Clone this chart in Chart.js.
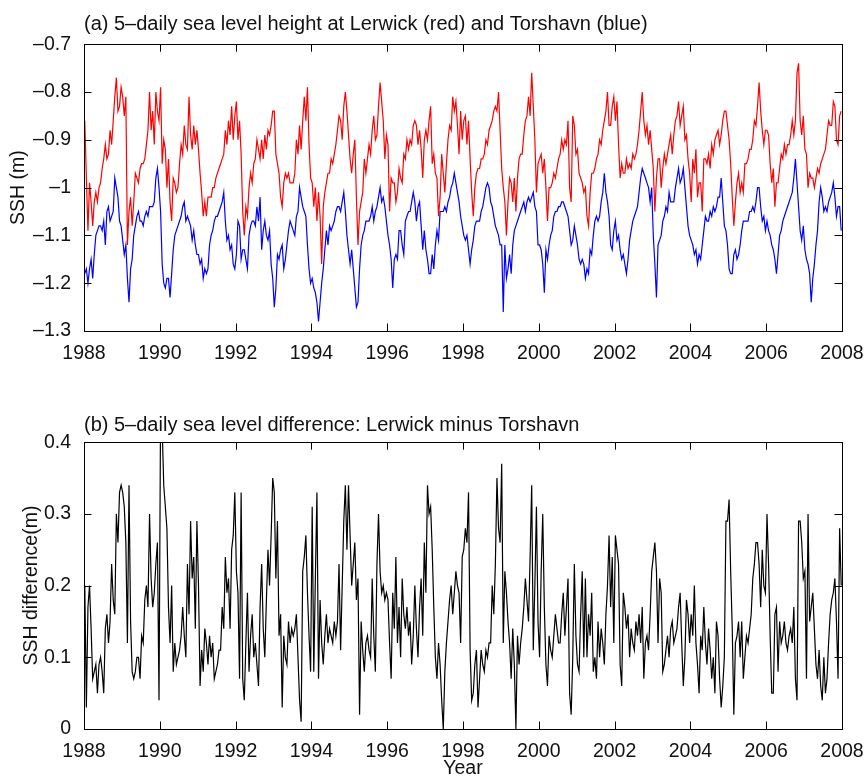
<!DOCTYPE html>
<html>
<head>
<meta charset="utf-8">
<script src="https://cdn.jsdelivr.net/npm/chart.js@4.4.1/dist/chart.umd.min.js"></script>
<style>
  html, body { margin: 0; padding: 0; background: #fff; }
  #wrap { position: relative; width: 867px; height: 780px; }
  canvas { position: absolute; left: 0; }
  #topChart { top: 0; }
  #bottomChart { top: 390px; }
</style>
</head>
<body>
<div id="wrap">
  <canvas id="topChart" width="867" height="390"></canvas>
  <canvas id="bottomChart" width="867" height="390"></canvas>
</div>
<script>
// Values, about two per month; one row per year, 1988 .. 2007
const lerwick = [
  [-0.86, -0.98, -1.09, -0.99, -1.03, -1.08, -1.03, -1.01, -1.03, -1.00, -0.99, -0.96, -0.94, -0.91, -0.94, -0.93, -0.88, -0.91, -0.86, -0.81, -0.77, -0.84, -0.83, -0.79],
  [-0.81, -0.85, -0.81, -1.12, -1.05, -1.02, -1.08, -1.03, -0.97, -0.98, -0.99, -0.96, -0.95, -0.95, -0.94, -0.91, -0.88, -0.80, -0.88, -0.84, -0.91, -0.80, -0.84, -0.86],
  [-0.79, -0.95, -0.90, -0.92, -1.00, -0.94, -1.03, -1.07, -0.98, -0.99, -1.01, -1.00, -0.95, -0.91, -0.93, -0.87, -0.91, -0.92, -0.81, -0.89, -0.92, -0.87, -0.91, -0.88],
  [-0.92, -0.97, -1.01, -1.06, -1.03, -1.06, -1.02, -1.02, -1.02, -1.00, -1.00, -0.98, -0.97, -0.96, -0.95, -0.94, -0.93, -0.88, -0.91, -0.86, -0.89, -0.83, -0.90, -0.85],
  [-0.82, -0.90, -0.86, -0.93, -1.05, -1.10, -1.04, -1.06, -1.00, -0.97, -0.99, -0.95, -0.94, -0.90, -0.92, -0.94, -0.90, -0.94, -0.89, -0.92, -0.88, -0.89, -0.87, -0.84],
  [-0.84, -0.93, -0.95, -0.97, -1.02, -1.04, -0.99, -0.97, -0.98, -0.97, -0.99, -0.99, -0.99, -0.97, -0.90, -0.93, -0.87, -0.92, -0.86, -0.81, -0.86, -0.79, -0.91, -0.98],
  [-0.99, -1.04, -1.00, -1.07, -1.01, -1.06, -1.16, -1.04, -1.01, -0.99, -0.97, -0.97, -0.94, -0.95, -0.93, -0.91, -0.88, -0.85, -0.86, -0.90, -0.83, -0.80, -0.84, -0.89],
  [-0.94, -0.97, -0.93, -0.90, -1.02, -1.12, -1.05, -1.03, -1.01, -0.94, -0.97, -0.94, -0.91, -0.93, -0.88, -0.85, -0.90, -0.89, -0.83, -0.78, -0.82, -0.86, -0.94, -0.89],
  [-0.91, -1.05, -0.98, -0.99, -0.99, -1.03, -1.01, -0.96, -0.98, -0.99, -0.93, -0.94, -0.90, -0.92, -0.90, -0.91, -0.87, -0.86, -0.87, -0.91, -0.88, -0.92, -0.98, -0.90],
  [-0.88, -0.90, -0.86, -0.83, -0.95, -0.93, -0.97, -0.98, -1.06, -1.02, -0.93, -0.97, -1.01, -0.95, -0.90, -0.87, -0.88, -0.81, -0.84, -0.82, -0.87, -0.93, -0.84, -0.90],
  [-0.86, -0.85, -0.91, -0.86, -0.94, -1.01, -1.06, -1.00, -0.97, -0.96, -0.96, -0.94, -0.94, -0.93, -0.90, -0.91, -0.88, -0.87, -0.86, -0.84, -0.83, -0.84, -0.80, -0.88],
  [-0.96, -1.00, -1.03, -1.10, -1.03, -0.98, -0.99, -1.03, -0.98, -1.05, -0.98, -0.94, -0.93, -0.93, -0.89, -0.86, -0.85, -0.81, -0.85, -0.76, -0.83, -0.90, -1.01, -0.95],
  [-0.94, -0.93, -0.97, -0.94, -1.00, -1.07, -1.00, -1.00, -0.99, -0.97, -0.98, -0.96, -0.94, -0.93, -0.90, -0.92, -0.90, -0.91, -0.86, -1.00, -1.03, -0.85, -0.87, -0.93],
  [-0.92, -0.97, -0.98, -0.99, -1.01, -1.00, -1.06, -1.08, -1.01, -0.97, -0.97, -0.96, -0.94, -0.93, -0.90, -0.91, -0.88, -0.86, -0.84, -0.80, -0.87, -0.87, -0.83, -0.81],
  [-0.86, -0.82, -0.91, -0.98, -0.95, -0.97, -0.97, -0.94, -0.96, -0.95, -0.96, -0.93, -0.94, -0.93, -0.91, -0.88, -0.84, -0.80, -0.86, -0.89, -0.87, -0.91, -0.88, -0.92],
  [-0.96, -1.05, -0.98, -0.94, -0.94, -1.00, -0.96, -0.93, -0.95, -0.93, -0.91, -0.89, -0.93, -0.89, -0.86, -0.85, -0.82, -0.87, -0.85, -0.83, -0.90, -0.89, -0.94, -0.97],
  [-1.03, -0.94, -0.97, -0.92, -1.02, -0.99, -0.99, -1.05, -0.94, -0.94, -0.95, -0.93, -0.96, -0.91, -0.93, -0.90, -0.89, -0.88, -0.91, -0.89, -0.86, -0.84, -0.84, -0.87],
  [-0.90, -0.95, -1.02, -1.08, -1.03, -0.99, -0.97, -1.01, -0.99, -1.01, -0.95, -0.95, -0.94, -0.92, -0.92, -0.90, -0.86, -0.87, -0.83, -0.78, -0.84, -0.88, -0.91, -0.88],
  [-0.88, -0.89, -0.95, -0.99, -0.96, -1.04, -0.99, -0.99, -0.96, -0.93, -0.94, -0.91, -0.93, -0.91, -0.91, -0.89, -0.86, -0.89, -0.86, -0.76, -0.74, -0.86, -0.89, -0.85],
  [-0.92, -0.93, -1.00, -0.97, -0.98, -0.98, -1.00, -0.98, -0.96, -0.97, -0.95, -0.94, -0.93, -0.92, -0.89, -0.86, -0.87, -0.87, -0.82, -0.83, -0.90, -0.91, -0.85, -0.84]
];

const torshavn = [
  [-1.18, -1.17, -1.20, -1.17, -1.15, -1.19, -1.14, -1.10, -1.09, -1.08, -1.08, -1.09, -1.07, -1.12, -1.05, -1.04, -1.07, -1.06, -1.05, -0.98, -1.00, -1.02, -1.07, -1.08],
  [-1.11, -1.14, -1.12, -1.19, -1.24, -1.17, -1.15, -1.10, -1.08, -1.06, -1.05, -1.07, -1.07, -1.08, -1.06, -1.05, -1.06, -1.04, -1.04, -1.04, -1.03, -0.98, -0.96, -1.00],
  [-1.05, -1.16, -1.20, -1.21, -1.19, -1.19, -1.23, -1.18, -1.13, -1.10, -1.09, -1.08, -1.07, -1.06, -1.04, -1.03, -1.07, -1.06, -1.07, -1.08, -1.11, -1.09, -1.12, -1.14],
  [-1.14, -1.16, -1.15, -1.19, -1.17, -1.18, -1.17, -1.12, -1.10, -1.09, -1.07, -1.06, -1.06, -1.05, -1.04, -1.03, -1.01, -1.07, -1.11, -1.10, -1.13, -1.12, -1.16, -1.17],
  [-1.14, -1.07, -1.08, -1.15, -1.13, -1.13, -1.15, -1.17, -1.10, -1.08, -1.07, -1.07, -1.08, -1.04, -1.07, -1.02, -1.13, -1.09, -1.07, -1.10, -1.11, -1.09, -1.16, -1.19],
  [-1.25, -1.21, -1.14, -1.15, -1.13, -1.12, -1.17, -1.15, -1.12, -1.09, -1.07, -1.08, -1.09, -1.10, -1.06, -1.05, -1.00, -1.02, -1.04, -1.05, -1.06, -1.12, -1.17, -1.20],
  [-1.19, -1.21, -1.22, -1.24, -1.28, -1.24, -1.20, -1.17, -1.13, -1.09, -1.12, -1.08, -1.09, -1.08, -1.07, -1.05, -1.04, -1.04, -1.05, -1.03, -1.01, -1.05, -1.10, -1.13],
  [-1.16, -1.13, -1.17, -1.21, -1.25, -1.24, -1.17, -1.12, -1.10, -1.09, -1.07, -1.07, -1.07, -1.06, -1.04, -1.07, -1.05, -1.04, -1.02, -1.00, -1.03, -1.02, -1.04, -1.07],
  [-1.10, -1.12, -1.15, -1.21, -1.15, -1.14, -1.15, -1.09, -1.09, -1.12, -1.14, -1.07, -1.06, -1.05, -1.05, -1.03, -1.01, -1.03, -1.07, -1.04, -1.03, -1.08, -1.13, -1.09],
  [-1.13, -1.15, -1.18, -1.18, -1.14, -1.17, -1.12, -1.09, -1.11, -1.05, -1.05, -1.05, -1.04, -1.05, -1.03, -1.02, -1.00, -0.99, -0.97, -0.99, -1.01, -1.03, -1.06, -1.08],
  [-1.10, -1.11, -1.10, -1.13, -1.16, -1.13, -1.11, -1.08, -1.07, -1.07, -1.07, -1.05, -1.04, -1.02, -1.00, -0.99, -1.00, -1.03, -1.04, -1.06, -1.08, -1.09, -1.10, -1.12],
  [-1.12, -1.26, -1.12, -1.19, -1.17, -1.14, -1.18, -1.12, -1.09, -1.08, -1.07, -1.06, -1.05, -1.04, -1.03, -1.05, -1.03, -1.02, -1.03, -1.02, -1.01, -1.04, -1.05, -1.12],
  [-1.12, -1.13, -1.16, -1.22, -1.13, -1.15, -1.12, -1.10, -1.09, -1.06, -1.05, -1.05, -1.04, -1.04, -1.03, -1.03, -1.04, -1.05, -1.06, -1.09, -1.12, -1.11, -1.08, -1.10],
  [-1.12, -1.15, -1.16, -1.15, -1.16, -1.19, -1.17, -1.18, -1.13, -1.14, -1.10, -1.07, -1.06, -1.07, -1.06, -1.03, -1.01, -0.97, -1.01, -1.03, -1.06, -1.12, -1.13, -1.09],
  [-1.07, -1.11, -1.10, -1.13, -1.15, -1.14, -1.16, -1.18, -1.15, -1.11, -1.09, -1.07, -1.06, -1.05, -1.04, -1.01, -0.98, -0.96, -0.97, -0.98, -0.99, -1.00, -1.03, -1.00],
  [-1.10, -1.16, -1.23, -1.12, -1.11, -1.10, -1.07, -1.06, -1.04, -1.05, -1.01, -1.03, -1.03, -1.03, -1.00, -0.98, -0.96, -0.99, -0.98, -0.96, -1.00, -1.04, -1.08, -1.10],
  [-1.11, -1.12, -1.14, -1.13, -1.16, -1.14, -1.15, -1.12, -1.09, -1.06, -1.07, -1.07, -1.05, -1.06, -1.04, -1.05, -1.04, -1.02, -1.02, -0.98, -1.03, -1.08, -1.09, -1.12],
  [-1.17, -1.18, -1.18, -1.14, -1.13, -1.15, -1.14, -1.12, -1.09, -1.07, -1.07, -1.07, -1.07, -1.05, -1.05, -1.04, -1.05, -1.03, -1.00, -1.00, -1.04, -1.07, -1.06, -1.09],
  [-1.07, -1.09, -1.10, -1.12, -1.13, -1.15, -1.18, -1.14, -1.10, -1.09, -1.07, -1.06, -1.05, -1.04, -1.03, -1.02, -1.01, -0.98, -0.94, -0.99, -1.04, -1.09, -1.11, -1.08],
  [-1.13, -1.15, -1.16, -1.18, -1.24, -1.19, -1.16, -1.12, -1.09, -1.03, -1.00, -1.02, -1.05, -1.04, -1.05, -1.03, -1.02, -1.01, -0.99, -1.02, -1.06, -1.04, -1.04, -1.09]
];

const difference = [
  [0.20, 0.03, 0.17, 0.20, 0.14, 0.07, 0.08, 0.09, 0.05, 0.09, 0.10, 0.08, 0.05, 0.14, 0.16, 0.12, 0.15, 0.23, 0.18, 0.16, 0.30, 0.26, 0.33, 0.34],
  [0.33, 0.31, 0.26, 0.12, 0.34, 0.15, 0.08, 0.07, 0.08, 0.10, 0.10, 0.07, 0.13, 0.12, 0.18, 0.20, 0.17, 0.30, 0.21, 0.17, 0.19, 0.23, 0.26, 0.04],
  [0.45, 0.42, 0.34, 0.31, 0.28, 0.17, 0.12, 0.20, 0.08, 0.12, 0.09, 0.10, 0.11, 0.13, 0.17, 0.13, 0.10, 0.23, 0.16, 0.29, 0.21, 0.24, 0.14, 0.29],
  [0.20, 0.06, 0.11, 0.08, 0.14, 0.12, 0.09, 0.13, 0.10, 0.12, 0.07, 0.08, 0.09, 0.11, 0.11, 0.17, 0.14, 0.24, 0.19, 0.21, 0.14, 0.25, 0.27, 0.33],
  [0.22, 0.19, 0.07, 0.33, 0.07, 0.04, 0.12, 0.19, 0.08, 0.13, 0.16, 0.10, 0.12, 0.09, 0.06, 0.17, 0.23, 0.14, 0.10, 0.18, 0.25, 0.20, 0.27, 0.35],
  [0.33, 0.21, 0.29, 0.13, 0.16, 0.03, 0.13, 0.10, 0.09, 0.15, 0.12, 0.14, 0.13, 0.14, 0.16, 0.10, 0.04, 0.01, 0.22, 0.24, 0.27, 0.19, 0.13, 0.08],
  [0.31, 0.08, 0.21, 0.33, 0.07, 0.18, 0.12, 0.09, 0.13, 0.16, 0.12, 0.14, 0.13, 0.12, 0.15, 0.13, 0.15, 0.23, 0.11, 0.20, 0.29, 0.34, 0.25, 0.34],
  [0.27, 0.20, 0.23, 0.26, 0.18, 0.21, 0.02, 0.15, 0.11, 0.08, 0.12, 0.13, 0.11, 0.10, 0.21, 0.13, 0.08, 0.23, 0.30, 0.22, 0.19, 0.20, 0.18, 0.19],
  [0.18, 0.12, 0.07, 0.19, 0.14, 0.24, 0.12, 0.17, 0.10, 0.21, 0.16, 0.14, 0.17, 0.13, 0.15, 0.09, 0.13, 0.20, 0.14, 0.10, 0.17, 0.21, 0.13, 0.26],
  [0.19, 0.34, 0.30, 0.31, 0.25, 0.17, 0.10, 0.07, 0.12, 0.09, 0.04, 0.00, 0.08, 0.12, 0.15, 0.18, 0.20, 0.16, 0.19, 0.22, 0.20, 0.19, 0.12, 0.24],
  [0.25, 0.28, 0.26, 0.33, 0.11, 0.04, 0.05, 0.09, 0.11, 0.03, 0.07, 0.11, 0.09, 0.08, 0.11, 0.10, 0.12, 0.12, 0.20, 0.16, 0.23, 0.35, 0.28, 0.26],
  [0.37, 0.12, 0.22, 0.19, 0.15, 0.12, 0.07, 0.14, 0.09, 0.00, 0.13, 0.09, 0.12, 0.14, 0.17, 0.21, 0.18, 0.15, 0.24, 0.34, 0.11, 0.20, 0.31, 0.15],
  [0.10, 0.22, 0.30, 0.17, 0.09, 0.06, 0.13, 0.11, 0.10, 0.13, 0.16, 0.14, 0.12, 0.12, 0.16, 0.19, 0.13, 0.17, 0.21, 0.05, 0.02, 0.10, 0.23, 0.13],
  [0.09, 0.08, 0.16, 0.22, 0.10, 0.21, 0.10, 0.16, 0.13, 0.19, 0.08, 0.10, 0.07, 0.15, 0.10, 0.14, 0.12, 0.09, 0.16, 0.20, 0.27, 0.17, 0.24, 0.12],
  [0.27, 0.25, 0.23, 0.09, 0.06, 0.19, 0.17, 0.14, 0.16, 0.10, 0.14, 0.12, 0.11, 0.15, 0.13, 0.16, 0.12, 0.17, 0.07, 0.12, 0.13, 0.11, 0.16, 0.22],
  [0.24, 0.26, 0.22, 0.12, 0.21, 0.19, 0.08, 0.09, 0.11, 0.13, 0.10, 0.14, 0.15, 0.12, 0.13, 0.14, 0.17, 0.19, 0.12, 0.06, 0.10, 0.18, 0.16, 0.12],
  [0.16, 0.13, 0.20, 0.12, 0.09, 0.05, 0.13, 0.11, 0.17, 0.12, 0.09, 0.14, 0.11, 0.07, 0.10, 0.05, 0.15, 0.13, 0.07, 0.03, 0.06, 0.10, 0.29, 0.29],
  [0.32, 0.22, 0.14, 0.02, 0.12, 0.13, 0.15, 0.10, 0.15, 0.07, 0.10, 0.13, 0.12, 0.14, 0.16, 0.21, 0.23, 0.26, 0.26, 0.23, 0.17, 0.25, 0.20, 0.19],
  [0.30, 0.23, 0.13, 0.05, 0.05, 0.16, 0.17, 0.08, 0.15, 0.12, 0.13, 0.15, 0.12, 0.11, 0.13, 0.14, 0.12, 0.17, 0.07, 0.04, 0.29, 0.29, 0.26, 0.21],
  [0.22, 0.07, 0.30, 0.15, 0.17, 0.19, 0.14, 0.09, 0.07, 0.11, 0.06, 0.04, 0.10, 0.05, 0.07, 0.12, 0.16, 0.18, 0.19, 0.21, 0.15, 0.07, 0.28, 0.20]
];

const firstYear = 1988;
const lastYear = 2008;
const yearTicks = [1988, 1990, 1992, 1994, 1996, 1998, 2000, 2002, 2004, 2006, 2008];
const sshTicks = [-1.3, -1.2, -1.1, -1, -0.9, -0.8, -0.7];
const diffTicks = [0, 0.1, 0.2, 0.3, 0.4];

const FONT = '"Liberation Sans", Arial, Helvetica, sans-serif';
const TEXT = '#111';

// each row is one year; samples sit evenly inside their year
function toPoints(rows) {
    const pts = [];
    rows.forEach((row, y) => {
        row.forEach((v, k) => pts.push({ x: firstYear + y + (k + 0.5) / row.length, y: v }));
    });
    return pts;
}

function fmt(v) {
    const r = Math.round(v * 10) / 10;
    return (r < 0 ? '\u2013' : '') + Math.abs(r);
}

// MATLAB style box with ticks pointing inwards on all four sides
const matlabBox = {
    id: 'matlabBox',
    afterDraw(chart) {
        const { ctx, chartArea: a, scales } = chart;
        const len = 7.5;
        ctx.save();
        ctx.strokeStyle = '#000';
        ctx.lineWidth = 1;
        ctx.beginPath();
        scales.x.ticks.forEach((t, i) => {
            const px = Math.round(scales.x.getPixelForTick(i)) + 0.5;
            ctx.moveTo(px, a.bottom); ctx.lineTo(px, a.bottom - len);
            ctx.moveTo(px, a.top); ctx.lineTo(px, a.top + len);
        });
        scales.y.ticks.forEach((t, i) => {
            const py = Math.round(scales.y.getPixelForTick(i)) + 0.5;
            ctx.moveTo(a.left, py); ctx.lineTo(a.left + len, py);
            ctx.moveTo(a.right, py); ctx.lineTo(a.right - len, py);
        });
        ctx.stroke();
        ctx.strokeRect(Math.round(a.left) + 0.5, Math.round(a.top) + 0.5,
            Math.round(a.right - a.left), Math.round(a.bottom - a.top));
        ctx.restore();
    }
};

function makePanel(canvasId, cfg) {
    const font = { family: FONT, size: 19.5 };
    return new Chart(document.getElementById(canvasId), {
        type: 'line',
        data: { datasets: cfg.datasets },
        plugins: [matlabBox],
        options: {
            responsive: false,
            animation: false,
            events: [],
            layout: { padding: { top: cfg.padTop, left: 0, right: 25, bottom: 0 } },
            elements: { point: { radius: 0 }, line: { tension: 0, borderWidth: 1.2 } },
            plugins: {
                legend: { display: false },
                tooltip: { enabled: false },
                title: {
                    display: true,
                    text: cfg.title,
                    align: 'start',
                    fullSize: false,
                    color: TEXT,
                    font: { family: FONT, size: 20, weight: 'normal' },
                    padding: { top: 0, bottom: cfg.titleGap }
                }
            },
            scales: {
                x: {
                    type: 'linear',
                    min: firstYear,
                    max: lastYear,
                    afterBuildTicks: s => { s.ticks = yearTicks.map(v => ({ value: v })); },
                    afterFit: s => { s.height = cfg.xHeight; },
                    grid: { display: false },
                    border: { display: false },
                    ticks: {
                        color: TEXT, font, padding: 3, autoSkip: false, maxRotation: 0,
                        callback: v => String(v)
                    },
                    title: {
                        display: !!cfg.xTitle,
                        text: cfg.xTitle || '',
                        color: TEXT, font,
                        padding: { top: 0, bottom: 0 }
                    }
                },
                y: {
                    type: 'linear',
                    min: cfg.yTicks[0],
                    max: cfg.yTicks[cfg.yTicks.length - 1],
                    afterBuildTicks: s => { s.ticks = cfg.yTicks.map(v => ({ value: v })); },
                    afterFit: s => { s.width = 84; },
                    grid: { display: false },
                    border: { display: false },
                    ticks: { color: TEXT, font, padding: 5, callback: v => fmt(v) },
                    title: {
                        display: true,
                        text: cfg.yTitle,
                        color: TEXT, font,
                        padding: { top: cfg.yTitlePad, bottom: 0 }
                    }
                }
            }
        }
    });
}

makePanel('topChart', {
    title: '(a) 5\u2013daily sea level height at Lerwick (red) and Torshavn (blue)',
    yTitle: 'SSH (m)',
    yTicks: sshTicks,
    padTop: 12,
    titleGap: 8.2,
    xHeight: 59,
    yTitlePad: 6.6,
    datasets: [
        { label: 'Lerwick', data: toPoints(lerwick), borderColor: '#ff0000' },
        { label: 'Torshavn', data: toPoints(torshavn), borderColor: '#0000ff' }
    ]
});

makePanel('bottomChart', {
    title: '(b) 5\u2013daily sea level difference: Lerwick minus Torshavn',
    yTitle: 'SSH difference(m)',
    xTitle: 'Year',
    yTicks: diffTicks,
    padTop: 23.3,
    titleGap: 4.9,
    xHeight: 51,
    yTitlePad: 20.3,
    datasets: [
        { label: 'Lerwick minus Torshavn', data: toPoints(difference), borderColor: '#000000' }
    ]
});
</script>
</body>
</html>
